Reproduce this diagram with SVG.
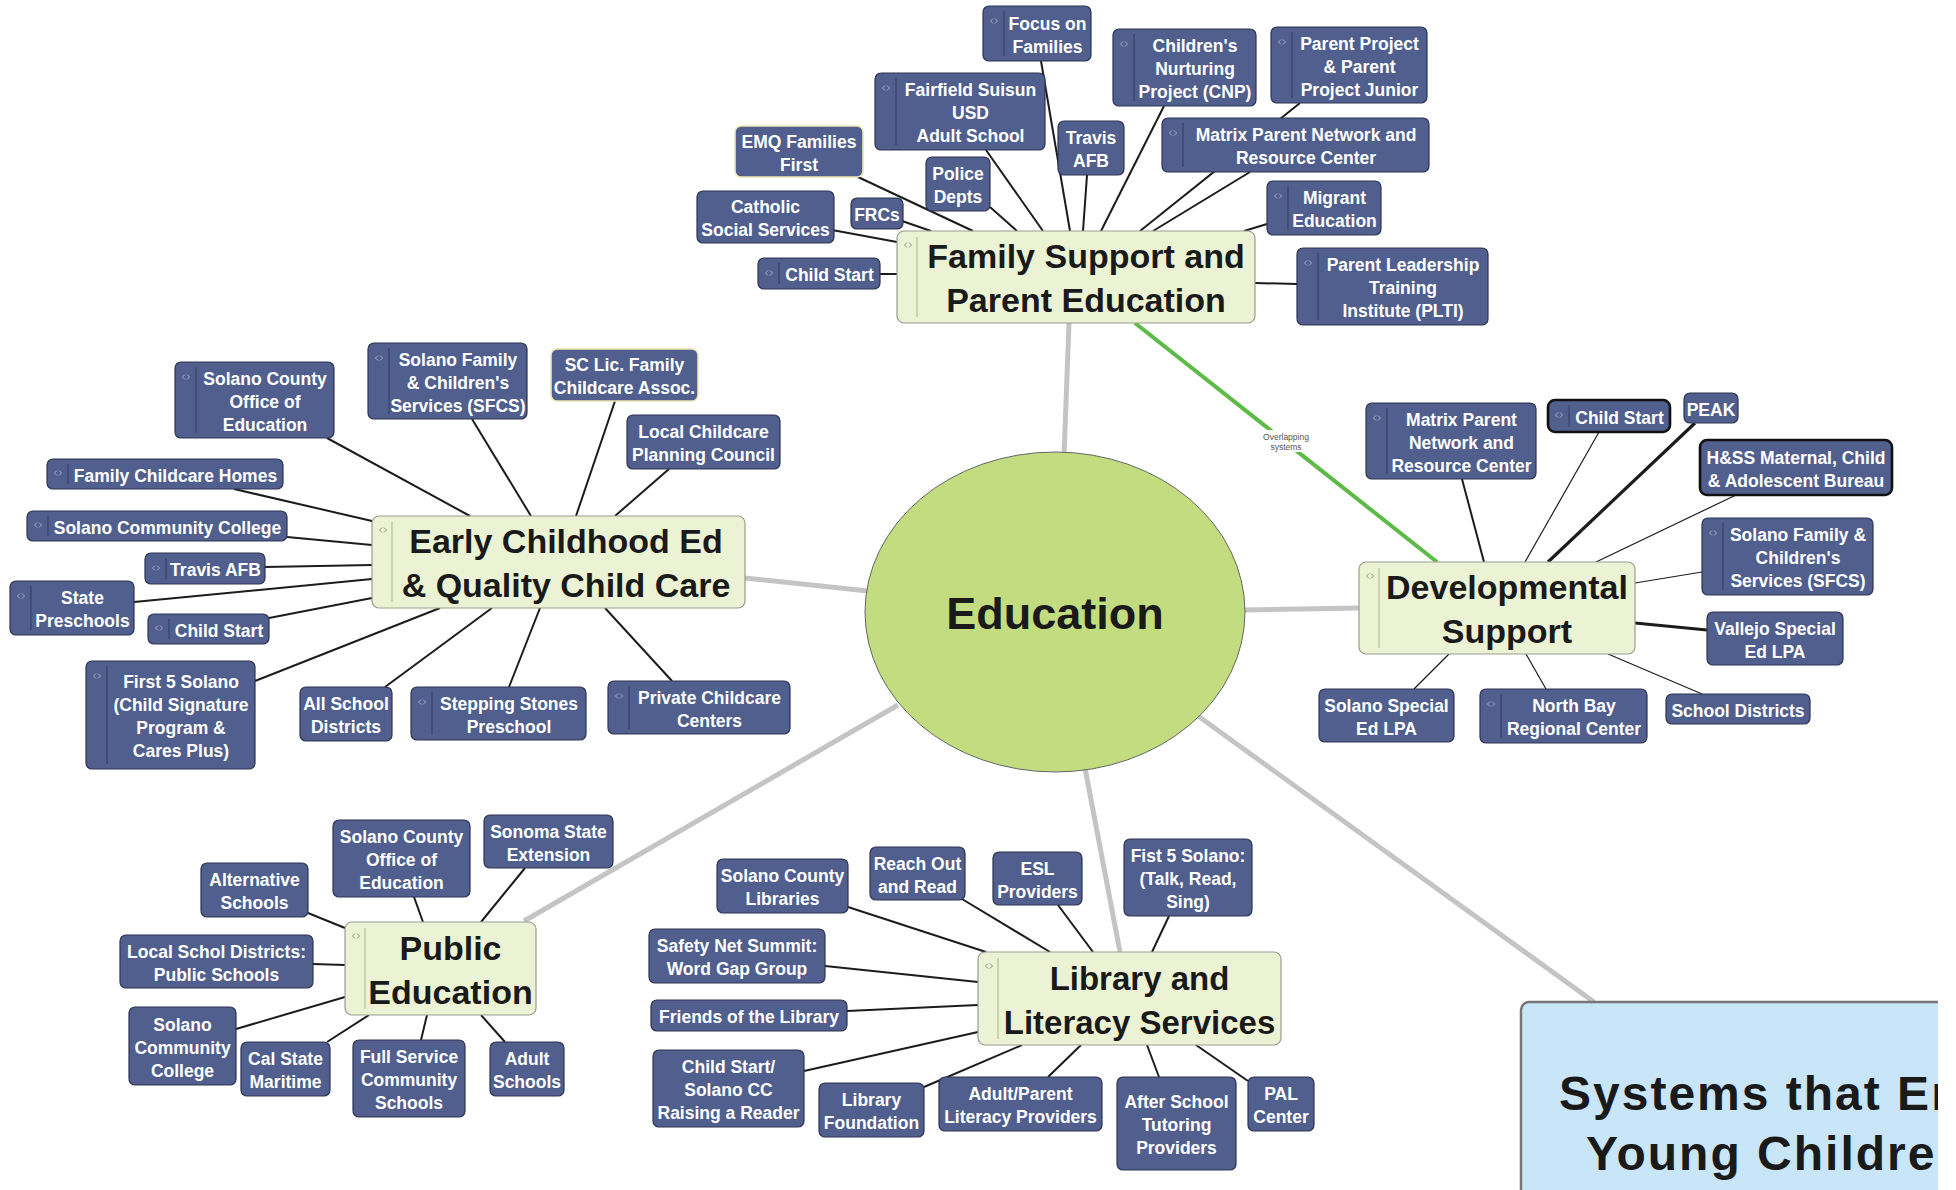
<svg xmlns="http://www.w3.org/2000/svg" xmlns:xlink="http://www.w3.org/1999/xlink" width="1956" height="1190" viewBox="0 0 1956 1190">
<defs>
<style>
.c{stroke:#1c1c1c;stroke-width:2;fill:none}
.c1{stroke-width:1.2}
.c3{stroke-width:3.2}
.g{stroke:#c4c4c4;stroke-width:5;fill:none}
.n rect{fill:#505f8d;stroke:#2e3452;stroke-width:1.2}
.n text{font-family:"Liberation Sans",Arial,Helvetica,sans-serif;font-weight:bold;font-size:17.5px;fill:#ffffff;text-anchor:middle}
.n .sep{stroke:#36426a;stroke-width:1.2}
.n rect.sel{stroke:#111111;stroke-width:2.6}
.n rect.hl{stroke:#ece6b2;stroke-width:1.6}
.m rect{fill:#ecf3d4;stroke:#9b9b8e;stroke-width:1.2}
.m text{font-family:"Liberation Sans",Arial,Helvetica,sans-serif;font-weight:bold;font-size:34px;fill:#1a1a1a;text-anchor:middle}
.m .sep{stroke:#b5bd98;stroke-width:1.2}
.ic{stroke:#a3aecb;stroke-width:1;fill:none}
.mic{stroke:#8f9480;stroke-width:1;fill:none}
</style>
<path id="ic" d="M-3.5,0 L-1,-2.5 M-3.5,0 L-1,2.5 M3.5,0 L1,-2.5 M3.5,0 L1,2.5"/>
<clipPath id="crop"><rect x="0" y="0" width="1938" height="1190"/></clipPath>
</defs>
<rect x="0" y="0" width="1956" height="1190" fill="#ffffff"/>

<g id="connectors">
<g id="main-links">
<line class="g" x1="1069" y1="323" x2="1064" y2="456"/>
<line class="g" x1="745" y1="578" x2="868" y2="591"/>
<line class="g" x1="1244" y1="610" x2="1359" y2="608"/>
<line class="g" x1="524" y1="921" x2="898" y2="705"/>
<line class="g" x1="1085" y1="768" x2="1120" y2="952"/>
<line class="g" x1="1198" y1="716" x2="1594" y2="1002"/>
<line x1="1135" y1="323" x2="1437" y2="562" stroke="#5cba46" stroke-width="4"/>
</g>
<g id="fs-links">
<line class="c" x1="1041" y1="61" x2="1070" y2="231"/>
<line class="c" x1="986" y1="150" x2="1043" y2="231"/>
<line class="c" x1="1087" y1="175" x2="1083" y2="231"/>
<line class="c" x1="1164" y1="106" x2="1101" y2="231"/>
<line class="c" x1="1300" y1="103" x2="1140" y2="231"/>
<line class="c" x1="1250" y1="172" x2="1153" y2="231"/>
<line class="c" x1="1267" y1="224" x2="1244" y2="231"/>
<line class="c" x1="1297" y1="284" x2="1255" y2="283"/>
<line class="c" x1="880" y1="274" x2="897" y2="274"/>
<line class="c" x1="832" y1="230" x2="897" y2="242"/>
<line class="c" x1="902" y1="221" x2="931" y2="231"/>
<line class="c" x1="858" y1="177" x2="973" y2="231"/>
<line class="c" x1="990" y1="207" x2="1017" y2="231"/>
</g>
<g id="ece-links">
<line class="c" x1="327" y1="438" x2="470" y2="516"/>
<line class="c" x1="472" y1="419" x2="531" y2="516"/>
<line class="c" x1="615" y1="401" x2="576" y2="516"/>
<line class="c" x1="669" y1="469" x2="615" y2="516"/>
<line class="c" x1="234" y1="489" x2="372" y2="521"/>
<line class="c" x1="287" y1="537" x2="372" y2="545"/>
<line class="c" x1="265" y1="567" x2="372" y2="565"/>
<line class="c" x1="134" y1="602" x2="372" y2="579"/>
<line class="c" x1="269" y1="618" x2="372" y2="598"/>
<line class="c" x1="255" y1="681" x2="440" y2="608"/>
<line class="c" x1="385" y1="687" x2="492" y2="608"/>
<line class="c" x1="509" y1="687" x2="540" y2="608"/>
<line class="c" x1="672" y1="681" x2="605" y2="608"/>
</g>
<g id="dev-links">
<line class="c" x1="1462" y1="479" x2="1484" y2="562"/>
<line class="c c1" x1="1599" y1="432" x2="1525" y2="562"/>
<line class="c c3" x1="1695" y1="423" x2="1548" y2="562"/>
<line class="c c1" x1="1736" y1="495" x2="1596" y2="562"/>
<line class="c c1" x1="1702" y1="572" x2="1635" y2="583"/>
<line class="c c3" x1="1707" y1="630" x2="1635" y2="623"/>
<line class="c c1" x1="1702" y1="694" x2="1608" y2="654"/>
<line class="c c1" x1="1546" y1="689" x2="1526" y2="654"/>
<line class="c c1" x1="1414" y1="689" x2="1449" y2="654"/>
</g>
<g id="pub-links">
<line class="c" x1="308" y1="913" x2="345" y2="928"/>
<line class="c" x1="414" y1="897" x2="423" y2="922"/>
<line class="c" x1="525" y1="868" x2="481" y2="922"/>
<line class="c" x1="313" y1="964" x2="345" y2="965"/>
<line class="c" x1="236" y1="1029" x2="345" y2="997"/>
<line class="c" x1="327" y1="1042" x2="369" y2="1015"/>
<line class="c" x1="421" y1="1040" x2="427" y2="1015"/>
<line class="c" x1="505" y1="1042" x2="481" y2="1015"/>
</g>
<g id="lib-links">
<line class="c" x1="848" y1="907" x2="986" y2="952"/>
<line class="c" x1="962" y1="899" x2="1050" y2="952"/>
<line class="c" x1="1058" y1="905" x2="1093" y2="952"/>
<line class="c" x1="1169" y1="916" x2="1152" y2="952"/>
<line class="c" x1="825" y1="966" x2="978" y2="982"/>
<line class="c" x1="847" y1="1011" x2="978" y2="1005"/>
<line class="c" x1="804" y1="1071" x2="978" y2="1032"/>
<line class="c" x1="924" y1="1087" x2="1022" y2="1045"/>
<line class="c" x1="1048" y1="1077" x2="1081" y2="1045"/>
<line class="c" x1="1159" y1="1077" x2="1147" y2="1045"/>
<line class="c" x1="1248" y1="1081" x2="1196" y2="1045"/>
</g>
<g id="overlap-label">
<rect x="1262" y="430" width="48" height="22" fill="#ffffff"/>
<text x="1286" y="440" font-family="Liberation Sans, Arial, sans-serif" font-size="8.5" fill="#555555" text-anchor="middle"><tspan x="1286" y="440">Overlapping</tspan><tspan x="1286" y="450">systems</tspan></text>
</g>
</g>

<g id="education">
<ellipse cx="1055" cy="612" rx="190" ry="160" fill="#c3dc7f" stroke="#666666" stroke-width="1"/>
<text x="1055" y="629" font-family="Liberation Sans, Arial, sans-serif" font-weight="bold" font-size="45" fill="#1a1a1a" text-anchor="middle">Education</text>
</g>

<g id="systems" clip-path="url(#crop)">
<rect x="1521" y="1002" width="480" height="240" rx="8" fill="#c8e6f8" stroke="#777777" stroke-width="2.5"/>
<text font-family="Liberation Sans, Arial, sans-serif" font-weight="bold" font-size="48" fill="#1a1a1a" letter-spacing="2"><tspan x="1559" y="1110">Systems that En</tspan><tspan x="1586" y="1170">Young Childre</tspan></text>
</g>

<!-- Family Support and Parent Education -->
<g id="fs-main" class="m">
<rect x="897" y="231" width="358" height="92" rx="7"/>
<line class="sep" x1="917" y1="237" x2="917" y2="317"/>
<use href="#ic" class="mic" x="908" y="245"/>
<text><tspan x="1086" y="268">Family Support and</tspan><tspan x="1086" y="312">Parent Education</tspan></text>
</g>
<g id="fs-focus" class="n">
<rect x="983" y="6" width="108" height="55" rx="6"/>
<line class="sep" x1="1004" y1="11" x2="1004" y2="56"/>
<use href="#ic" class="ic" x="994" y="21"/>
<text><tspan x="1047.5" y="29.5">Focus on</tspan><tspan x="1047.5" y="52.5">Families</tspan></text>
</g>
<g id="fs-cnp" class="n">
<rect x="1113" y="29" width="143" height="77" rx="6"/>
<line class="sep" x1="1134" y1="34" x2="1134" y2="101"/>
<use href="#ic" class="ic" x="1124" y="44"/>
<text><tspan x="1195" y="52">Children's</tspan><tspan x="1195" y="75">Nurturing</tspan><tspan x="1195" y="98">Project (CNP)</tspan></text>
</g>
<g id="fs-parentproject" class="n">
<rect x="1271" y="27" width="156" height="76" rx="6"/>
<line class="sep" x1="1292" y1="32" x2="1292" y2="98"/>
<use href="#ic" class="ic" x="1282" y="42"/>
<text><tspan x="1359.5" y="49.5">Parent Project</tspan><tspan x="1359.5" y="72.5">&amp; Parent</tspan><tspan x="1359.5" y="95.5">Project Junior</tspan></text>
</g>
<g id="fs-fairfield" class="n">
<rect x="875" y="73" width="170" height="77" rx="6"/>
<line class="sep" x1="896" y1="78" x2="896" y2="145"/>
<use href="#ic" class="ic" x="886" y="88"/>
<text><tspan x="970.5" y="96">Fairfield Suisun</tspan><tspan x="970.5" y="119">USD</tspan><tspan x="970.5" y="142">Adult School</tspan></text>
</g>
<g id="fs-emq" class="n">
<rect class="hl" x="735" y="126" width="128" height="51" rx="6"/>
<text><tspan x="799" y="147.5">EMQ Families</tspan><tspan x="799" y="170.5">First</tspan></text>
</g>
<g id="fs-travis" class="n">
<rect x="1058" y="121" width="66" height="54" rx="6"/>
<text><tspan x="1091" y="144">Travis</tspan><tspan x="1091" y="167">AFB</tspan></text>
</g>
<g id="fs-police" class="n">
<rect x="926" y="157" width="64" height="54" rx="6"/>
<text><tspan x="958" y="180">Police</tspan><tspan x="958" y="203">Depts</tspan></text>
</g>
<g id="fs-matrix" class="n">
<rect x="1162" y="118" width="267" height="54" rx="6"/>
<line class="sep" x1="1183" y1="123" x2="1183" y2="167"/>
<use href="#ic" class="ic" x="1173" y="133"/>
<text><tspan x="1306" y="141">Matrix Parent Network and</tspan><tspan x="1306" y="164">Resource Center</tspan></text>
</g>
<g id="fs-catholic" class="n">
<rect x="697" y="191" width="137" height="52" rx="6"/>
<text><tspan x="765.5" y="213">Catholic</tspan><tspan x="765.5" y="236">Social Services</tspan></text>
</g>
<g id="fs-frcs" class="n">
<rect x="851" y="198" width="52" height="31" rx="6"/>
<text><tspan x="877" y="221">FRCs</tspan></text>
</g>
<g id="fs-migrant" class="n">
<rect x="1267" y="181" width="114" height="54" rx="6"/>
<line class="sep" x1="1288" y1="186" x2="1288" y2="230"/>
<use href="#ic" class="ic" x="1278" y="196"/>
<text><tspan x="1334.5" y="204">Migrant</tspan><tspan x="1334.5" y="227">Education</tspan></text>
</g>
<g id="fs-childstart" class="n">
<rect x="758" y="258" width="122" height="31" rx="6"/>
<line class="sep" x1="779" y1="263" x2="779" y2="284"/>
<use href="#ic" class="ic" x="769" y="273"/>
<text><tspan x="829.5" y="281">Child Start</tspan></text>
</g>
<g id="fs-plti" class="n">
<rect x="1297" y="248" width="191" height="77" rx="6"/>
<line class="sep" x1="1318" y1="253" x2="1318" y2="320"/>
<use href="#ic" class="ic" x="1308" y="263"/>
<text><tspan x="1403" y="271">Parent Leadership</tspan><tspan x="1403" y="294">Training</tspan><tspan x="1403" y="317">Institute (PLTI)</tspan></text>
</g>

<!-- Early Childhood Ed -->
<g id="ece-main" class="m">
<rect x="372" y="516" width="373" height="92" rx="7"/>
<line class="sep" x1="392" y1="522" x2="392" y2="602"/>
<use href="#ic" class="mic" x="383" y="530"/>
<text><tspan x="566" y="553">Early Childhood Ed</tspan><tspan x="566" y="597">&amp; Quality Child Care</tspan></text>
</g>
<g id="ece-scoe" class="n">
<rect x="175" y="362" width="159" height="76" rx="6"/>
<line class="sep" x1="196" y1="367" x2="196" y2="433"/>
<use href="#ic" class="ic" x="186" y="377"/>
<text><tspan x="265" y="384.5">Solano County</tspan><tspan x="265" y="407.5">Office of</tspan><tspan x="265" y="430.5">Education</tspan></text>
</g>
<g id="ece-sfcs" class="n">
<rect x="368" y="343" width="159" height="76" rx="6"/>
<line class="sep" x1="389" y1="348" x2="389" y2="414"/>
<use href="#ic" class="ic" x="379" y="358"/>
<text><tspan x="458" y="365.5">Solano Family</tspan><tspan x="458" y="388.5">&amp; Children's</tspan><tspan x="458" y="411.5">Services (SFCS)</tspan></text>
</g>
<g id="ece-sclic" class="n">
<rect class="hl" x="551" y="349" width="147" height="52" rx="6"/>
<text><tspan x="624.5" y="371">SC Lic. Family</tspan><tspan x="624.5" y="394">Childcare Assoc.</tspan></text>
</g>
<g id="ece-lcpc" class="n">
<rect x="627" y="415" width="153" height="54" rx="6"/>
<text><tspan x="703.5" y="438">Local Childcare</tspan><tspan x="703.5" y="461">Planning Council</tspan></text>
</g>
<g id="ece-fch" class="n">
<rect x="47" y="459" width="236" height="30" rx="6"/>
<line class="sep" x1="68" y1="464" x2="68" y2="484"/>
<use href="#ic" class="ic" x="58" y="473"/>
<text><tspan x="175.5" y="481.5">Family Childcare Homes</tspan></text>
</g>
<g id="ece-scc" class="n">
<rect x="27" y="511" width="260" height="30" rx="6"/>
<line class="sep" x1="48" y1="516" x2="48" y2="536"/>
<use href="#ic" class="ic" x="38" y="525"/>
<text><tspan x="167.5" y="533.5">Solano Community College</tspan></text>
</g>
<g id="ece-travis" class="n">
<rect x="145" y="553" width="120" height="31" rx="6"/>
<line class="sep" x1="166" y1="558" x2="166" y2="579"/>
<use href="#ic" class="ic" x="156" y="568"/>
<text><tspan x="215.5" y="576">Travis AFB</tspan></text>
</g>
<g id="ece-state" class="n">
<rect x="10" y="581" width="124" height="54" rx="6"/>
<line class="sep" x1="31" y1="586" x2="31" y2="630"/>
<use href="#ic" class="ic" x="21" y="596"/>
<text><tspan x="82.5" y="604">State</tspan><tspan x="82.5" y="627">Preschools</tspan></text>
</g>
<g id="ece-childstart" class="n">
<rect x="148" y="614" width="121" height="30" rx="6"/>
<line class="sep" x1="169" y1="619" x2="169" y2="639"/>
<use href="#ic" class="ic" x="159" y="628"/>
<text><tspan x="219" y="636.5">Child Start</tspan></text>
</g>
<g id="ece-first5" class="n">
<rect x="86" y="661" width="169" height="108" rx="6"/>
<line class="sep" x1="107" y1="666" x2="107" y2="764"/>
<use href="#ic" class="ic" x="97" y="676"/>
<text><tspan x="181" y="688">First 5 Solano</tspan><tspan x="181" y="711">(Child Signature</tspan><tspan x="181" y="734">Program &amp;</tspan><tspan x="181" y="757">Cares Plus)</tspan></text>
</g>
<g id="ece-allschool" class="n">
<rect x="300" y="687" width="92" height="54" rx="6"/>
<text><tspan x="346" y="710">All School</tspan><tspan x="346" y="733">Districts</tspan></text>
</g>
<g id="ece-stepping" class="n">
<rect x="411" y="687" width="175" height="53" rx="6"/>
<line class="sep" x1="432" y1="692" x2="432" y2="735"/>
<use href="#ic" class="ic" x="422" y="702"/>
<text><tspan x="509" y="709.5">Stepping Stones</tspan><tspan x="509" y="732.5">Preschool</tspan></text>
</g>
<g id="ece-private" class="n">
<rect x="608" y="681" width="182" height="53" rx="6"/>
<line class="sep" x1="629" y1="686" x2="629" y2="729"/>
<use href="#ic" class="ic" x="619" y="696"/>
<text><tspan x="709.5" y="703.5">Private Childcare</tspan><tspan x="709.5" y="726.5">Centers</tspan></text>
</g>

<!-- Developmental Support -->
<g id="dev-main" class="m">
<rect x="1359" y="562" width="276" height="92" rx="7"/>
<line class="sep" x1="1379" y1="568" x2="1379" y2="648"/>
<use href="#ic" class="mic" x="1370" y="576"/>
<text><tspan x="1507" y="599">Developmental</tspan><tspan x="1507" y="643">Support</tspan></text>
</g>
<g id="dev-matrix" class="n">
<rect x="1366" y="403" width="170" height="76" rx="6"/>
<line class="sep" x1="1387" y1="408" x2="1387" y2="474"/>
<use href="#ic" class="ic" x="1377" y="418"/>
<text><tspan x="1461.5" y="425.5">Matrix Parent</tspan><tspan x="1461.5" y="448.5">Network and</tspan><tspan x="1461.5" y="471.5">Resource Center</tspan></text>
</g>
<g id="dev-childstart" class="n">
<rect class="sel" x="1548" y="400" width="122" height="32" rx="7"/>
<line class="sep" x1="1569" y1="405" x2="1569" y2="427"/>
<use href="#ic" class="ic" x="1559" y="415"/>
<text><tspan x="1619.5" y="423.5">Child Start</tspan></text>
</g>
<g id="dev-peak" class="n">
<rect x="1684" y="393" width="54" height="30" rx="6"/>
<text><tspan x="1711" y="415.5">PEAK</tspan></text>
</g>
<g id="dev-hss" class="n">
<rect class="sel" x="1700" y="440" width="192" height="55" rx="7"/>
<text><tspan x="1796" y="463.5">H&amp;SS Maternal, Child</tspan><tspan x="1796" y="486.5">&amp; Adolescent Bureau</tspan></text>
</g>
<g id="dev-sfcs" class="n">
<rect x="1702" y="518" width="171" height="77" rx="6"/>
<line class="sep" x1="1723" y1="523" x2="1723" y2="590"/>
<use href="#ic" class="ic" x="1713" y="533"/>
<text><tspan x="1798" y="541">Solano Family &amp;</tspan><tspan x="1798" y="564">Children's</tspan><tspan x="1798" y="587">Services (SFCS)</tspan></text>
</g>
<g id="dev-vallejo" class="n">
<rect x="1707" y="612" width="136" height="53" rx="6"/>
<text><tspan x="1775" y="634.5">Vallejo Special</tspan><tspan x="1775" y="657.5">Ed LPA</tspan></text>
</g>
<g id="dev-schooldistricts" class="n">
<rect x="1666" y="694" width="144" height="30" rx="6"/>
<text><tspan x="1738" y="716.5">School Districts</tspan></text>
</g>
<g id="dev-northbay" class="n">
<rect x="1480" y="689" width="167" height="54" rx="6"/>
<line class="sep" x1="1501" y1="694" x2="1501" y2="738"/>
<use href="#ic" class="ic" x="1491" y="704"/>
<text><tspan x="1574" y="712">North Bay</tspan><tspan x="1574" y="735">Regional Center</tspan></text>
</g>
<g id="dev-solanospecial" class="n">
<rect x="1319" y="689" width="135" height="53" rx="6"/>
<text><tspan x="1386.5" y="711.5">Solano Special</tspan><tspan x="1386.5" y="734.5">Ed LPA</tspan></text>
</g>

<!-- Public Education -->
<g id="pub-main" class="m">
<rect x="345" y="922" width="191" height="93" rx="7"/>
<line class="sep" x1="365" y1="928" x2="365" y2="1009"/>
<use href="#ic" class="mic" x="356" y="936"/>
<text><tspan x="450.5" y="959.5">Public</tspan><tspan x="450.5" y="1003.5">Education</tspan></text>
</g>
<g id="pub-alt" class="n">
<rect x="201" y="863" width="107" height="54" rx="6"/>
<text><tspan x="254.5" y="886">Alternative</tspan><tspan x="254.5" y="909">Schools</tspan></text>
</g>
<g id="pub-scoe" class="n">
<rect x="333" y="820" width="137" height="77" rx="6"/>
<text><tspan x="401.5" y="843">Solano County</tspan><tspan x="401.5" y="866">Office of</tspan><tspan x="401.5" y="889">Education</tspan></text>
</g>
<g id="pub-sonoma" class="n">
<rect x="484" y="815" width="129" height="53" rx="6"/>
<text><tspan x="548.5" y="837.5">Sonoma State</tspan><tspan x="548.5" y="860.5">Extension</tspan></text>
</g>
<g id="pub-local" class="n">
<rect x="120" y="935" width="193" height="53" rx="6"/>
<text><tspan x="216.5" y="957.5">Local Schol Districts:</tspan><tspan x="216.5" y="980.5">Public Schools</tspan></text>
</g>
<g id="pub-scc" class="n">
<rect x="129" y="1007" width="107" height="78" rx="6"/>
<text><tspan x="182.5" y="1030.5">Solano</tspan><tspan x="182.5" y="1053.5">Community</tspan><tspan x="182.5" y="1076.5">College</tspan></text>
</g>
<g id="pub-calstate" class="n">
<rect x="241" y="1042" width="89" height="54" rx="6"/>
<text><tspan x="285.5" y="1065">Cal State</tspan><tspan x="285.5" y="1088">Maritime</tspan></text>
</g>
<g id="pub-fullservice" class="n">
<rect x="353" y="1040" width="112" height="77" rx="6"/>
<text><tspan x="409" y="1063">Full Service</tspan><tspan x="409" y="1086">Community</tspan><tspan x="409" y="1109">Schools</tspan></text>
</g>
<g id="pub-adult" class="n">
<rect x="490" y="1042" width="74" height="54" rx="6"/>
<text><tspan x="527" y="1065">Adult</tspan><tspan x="527" y="1088">Schools</tspan></text>
</g>

<!-- Library and Literacy Services -->
<g id="lib-main" class="m">
<rect x="978" y="952" width="303" height="93" rx="7"/>
<line class="sep" x1="998" y1="958" x2="998" y2="1039"/>
<use href="#ic" class="mic" x="989" y="966"/>
<text font-size="33"><tspan x="1139.5" y="989.5" style="font-size:33px">Library and</tspan><tspan x="1139.5" y="1033.5" style="font-size:33px">Literacy Services</tspan></text>
</g>
<g id="lib-scl" class="n">
<rect x="717" y="859" width="131" height="54" rx="6"/>
<text><tspan x="782.5" y="882">Solano County</tspan><tspan x="782.5" y="905">Libraries</tspan></text>
</g>
<g id="lib-reach" class="n">
<rect x="870" y="847" width="95" height="53" rx="6"/>
<text><tspan x="917.5" y="869.5">Reach Out</tspan><tspan x="917.5" y="892.5">and Read</tspan></text>
</g>
<g id="lib-esl" class="n">
<rect x="993" y="852" width="89" height="53" rx="6"/>
<text><tspan x="1037.5" y="874.5">ESL</tspan><tspan x="1037.5" y="897.5">Providers</tspan></text>
</g>
<g id="lib-fist5" class="n">
<rect x="1124" y="839" width="128" height="77" rx="6"/>
<text><tspan x="1188" y="862">Fist 5 Solano:</tspan><tspan x="1188" y="885">(Talk, Read,</tspan><tspan x="1188" y="908">Sing)</tspan></text>
</g>
<g id="lib-safety" class="n">
<rect x="649" y="929" width="176" height="54" rx="6"/>
<text><tspan x="737" y="952">Safety Net Summit:</tspan><tspan x="737" y="975">Word Gap Group</tspan></text>
</g>
<g id="lib-friends" class="n">
<rect x="651" y="1000" width="196" height="31" rx="6"/>
<text><tspan x="749" y="1023">Friends of the Library</tspan></text>
</g>
<g id="lib-childstart" class="n">
<rect x="653" y="1050" width="151" height="77" rx="6"/>
<text><tspan x="728.5" y="1073">Child Start/</tspan><tspan x="728.5" y="1096">Solano CC</tspan><tspan x="728.5" y="1119">Raising a Reader</tspan></text>
</g>
<g id="lib-foundation" class="n">
<rect x="819" y="1083" width="105" height="54" rx="6"/>
<text><tspan x="871.5" y="1106">Library</tspan><tspan x="871.5" y="1129">Foundation</tspan></text>
</g>
<g id="lib-adultparent" class="n">
<rect x="939" y="1077" width="163" height="54" rx="6"/>
<text><tspan x="1020.5" y="1100">Adult/Parent</tspan><tspan x="1020.5" y="1123">Literacy Providers</tspan></text>
</g>
<g id="lib-afterschool" class="n">
<rect x="1117" y="1077" width="119" height="93" rx="6"/>
<text><tspan x="1176.5" y="1108">After School</tspan><tspan x="1176.5" y="1131">Tutoring</tspan><tspan x="1176.5" y="1154">Providers</tspan></text>
</g>
<g id="lib-pal" class="n">
<rect x="1248" y="1077" width="66" height="54" rx="6"/>
<text><tspan x="1281" y="1100">PAL</tspan><tspan x="1281" y="1123">Center</tspan></text>
</g>
</svg>
